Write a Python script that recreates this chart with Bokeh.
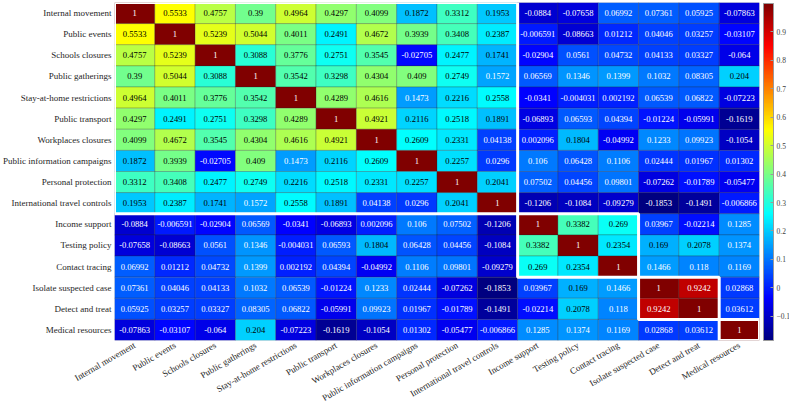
import math
import numpy as np
from bokeh.plotting import figure
from bokeh.models import (ColumnDataSource, LinearColorMapper, ColorBar, FixedTicker)
from bokeh.embed import file_html
from bokeh.resources import INLINE
from bokeh.core.properties import value

labels = ["Internal movement", "Public events", "Schools closures", "Public gatherings",
          "Stay-at-home restrictions", "Public transport", "Workplaces closures",
          "Public information campaigns", "Personal protection", "International travel controls",
          "Income support", "Testing policy", "Contact tracing", "Isolate suspected case",
          "Detect and treat", "Medical resources"]

internal_movement = [1, 0.5533, 0.4757, 0.39, 0.4964, 0.4297, 0.4099, 0.1872, 0.3312, 0.1953, -0.0884, -0.07658, 0.06992, 0.07361, 0.05925, -0.07863]
public_events = [0.5533, 1, 0.5239, 0.5044, 0.4011, 0.2491, 0.4672, 0.3939, 0.3408, 0.2387, -0.006591, -0.08663, 0.01212, 0.04046, 0.03257, -0.03107]
schools_closures = [0.4757, 0.5239, 1, 0.3088, 0.3776, 0.2751, 0.3545, -0.02705, 0.2477, 0.1741, -0.02904, 0.0561, 0.04732, 0.04133, 0.03327, -0.064]
public_gatherings = [0.39, 0.5044, 0.3088, 1, 0.3542, 0.3298, 0.4304, 0.409, 0.2749, 0.1572, 0.06569, 0.1346, 0.1399, 0.1032, 0.08305, 0.204]
stay_at_home = [0.4964, 0.4011, 0.3776, 0.3542, 1, 0.4289, 0.4616, 0.1473, 0.2216, 0.2558, -0.0341, -0.004031, 0.002192, 0.06539, 0.06822, -0.07223]
public_transport = [0.4297, 0.2491, 0.2751, 0.3298, 0.4289, 1, 0.4921, 0.2116, 0.2518, 0.1891, -0.06893, 0.06593, 0.04394, -0.01224, -0.05991, -0.1619]
workplaces_closures = [0.4099, 0.4672, 0.3545, 0.4304, 0.4616, 0.4921, 1, 0.2609, 0.2331, 0.04138, 0.002096, 0.1804, -0.04992, 0.1233, 0.09923, -0.1054]
public_info = [0.1872, 0.3939, -0.02705, 0.409, 0.1473, 0.2116, 0.2609, 1, 0.2257, 0.0296, 0.106, 0.06428, 0.1106, 0.02444, 0.01967, 0.01302]
personal_protection = [0.3312, 0.3408, 0.2477, 0.2749, 0.2216, 0.2518, 0.2331, 0.2257, 1, 0.2041, 0.07502, 0.04456, 0.09801, -0.07262, -0.01789, -0.05477]
intl_travel = [0.1953, 0.2387, 0.1741, 0.1572, 0.2558, 0.1891, 0.04138, 0.0296, 0.2041, 1, -0.1206, -0.1084, -0.09279, -0.1853, -0.1491, -0.006866]
income_support = [-0.0884, -0.006591, -0.02904, 0.06569, -0.0341, -0.06893, 0.002096, 0.106, 0.07502, -0.1206, 1, 0.3382, 0.269, 0.03967, -0.02214, 0.1285]
testing_policy = [-0.07658, -0.08663, 0.0561, 0.1346, -0.004031, 0.06593, 0.1804, 0.06428, 0.04456, -0.1084, 0.3382, 1, 0.2354, 0.169, 0.2078, 0.1374]
contact_tracing = [0.06992, 0.01212, 0.04732, 0.1399, 0.002192, 0.04394, -0.04992, 0.1106, 0.09801, -0.09279, 0.269, 0.2354, 1, 0.1466, 0.118, 0.1169]
isolate_case = [0.07361, 0.04046, 0.04133, 0.1032, 0.06539, -0.01224, 0.1233, 0.02444, -0.07262, -0.1853, 0.03967, 0.169, 0.1466, 1, 0.9242, 0.02868]
detect_treat = [0.05925, 0.03257, 0.03327, 0.08305, 0.06822, -0.05991, 0.09923, 0.01967, -0.01789, -0.1491, -0.02214, 0.2078, 0.118, 0.9242, 1, 0.03612]
medical_resources = [-0.07863, -0.03107, -0.064, 0.204, -0.07223, -0.1619, -0.1054, 0.01302, -0.05477, -0.006866, 0.1285, 0.1374, 0.1169, 0.02868, 0.03612, 1]

rows = [internal_movement, public_events, schools_closures, public_gatherings, stay_at_home,
        public_transport, workplaces_closures, public_info, personal_protection, intl_travel,
        income_support, testing_policy, contact_tracing, isolate_case, detect_treat, medical_resources]

group_sizes = [10, 3, 2, 1]
cbar_ticks = [-0.1, 0, 0.1, 0.2, 0.3, 0.4, 0.5, 0.6, 0.7, 0.8, 0.9]

SERIF = "Times New Roman, Liberation Serif, serif"

# MATLAB-style jet palette
t = np.linspace(0, 1, 256)
r = np.clip(1.5 - np.abs(4 * t - 3), 0, 1)
g = np.clip(1.5 - np.abs(4 * t - 2), 0, 1)
b = np.clip(1.5 - np.abs(4 * t - 1), 0, 1)
jet = ["#%02x%02x%02x" % (int(round(a * 255)), int(round(c * 255)), int(round(d * 255))) for a, c, d in zip(r, g, b)]

n = len(labels)
xs, ys, vals, txt, tcol = [], [], [], [], []
for i, row in enumerate(rows):
    for j, v in enumerate(row):
        xs.append(j + 0.5)
        ys.append(i + 0.5)
        vals.append(v)
        txt.append("{:.4g}".format(v))
        tcol.append("#000000" if 0.16 < v < 0.85 else "#ffffff")

vmin = min(vals)
vmax = max(vals)
mapper = LinearColorMapper(palette=jet, low=vmin, high=vmax)

src = ColumnDataSource(dict(x=xs, y=ys, v=vals, t=txt, c=tcol))

p = figure(frame_width=645, frame_height=338, x_range=(0, n), y_range=(n, 0),
           output_backend="svg", toolbar_location=None,
           min_border_left=111, min_border_top=2, min_border_bottom=62, min_border_right=31)
p.outline_line_color = None
p.grid.visible = False
p.background_fill_color = "white"

p.rect(x="x", y="y", width=1, height=1, source=src,
       fill_color={"field": "v", "transform": mapper},
       line_color="#222222", line_alpha=0.35, line_width=0.7)

p.text(x="x", y="y", text="t", source=src, text_color="c",
       text_font=value(SERIF), text_font_size="8.6px",
       text_align="center", text_baseline="middle")

# white cluster outlines
starts = np.cumsum([0] + group_sizes[:-1])
cx = [s + k / 2 for s, k in zip(starts, group_sizes)]
p.rect(x=cx, y=cx, width=group_sizes, height=group_sizes, fill_alpha=0,
       line_color="white", line_width=3)

ticks = [k + 0.5 for k in range(n)]
overrides = {k + 0.5: lab for k, lab in enumerate(labels)}
for ax in (p.xaxis, p.yaxis):
    ax.ticker = FixedTicker(ticks=ticks)
    ax.major_label_overrides = overrides
    ax.axis_line_color = None
    ax.major_tick_line_color = None
    ax.minor_tick_line_color = None
    ax.major_label_text_font = SERIF
    ax.major_label_text_font_size = "9px"
    ax.major_label_text_color = "#262626"
    ax.major_tick_out = 0
    ax.major_tick_in = 0
p.yaxis.major_label_standoff = 3
p.xaxis.major_label_standoff = 4
p.xaxis.major_label_orientation = math.pi / 6

cb = ColorBar(color_mapper=mapper, width=10, height=337, location=(4, 0),
              padding=0, margin=0, ticker=FixedTicker(ticks=cbar_ticks),
              major_label_text_font=SERIF, major_label_text_font_size="7.5px",
              major_label_text_color="#404040", bar_line_color="#9a9a9a",
              major_tick_line_color="#9a9a9a", major_tick_in=3, major_tick_out=0,
              label_standoff=3, border_line_color=None, background_fill_alpha=0)
p.add_layout(cb, "right")

open("out.html", "w").write(file_html(p, INLINE))
